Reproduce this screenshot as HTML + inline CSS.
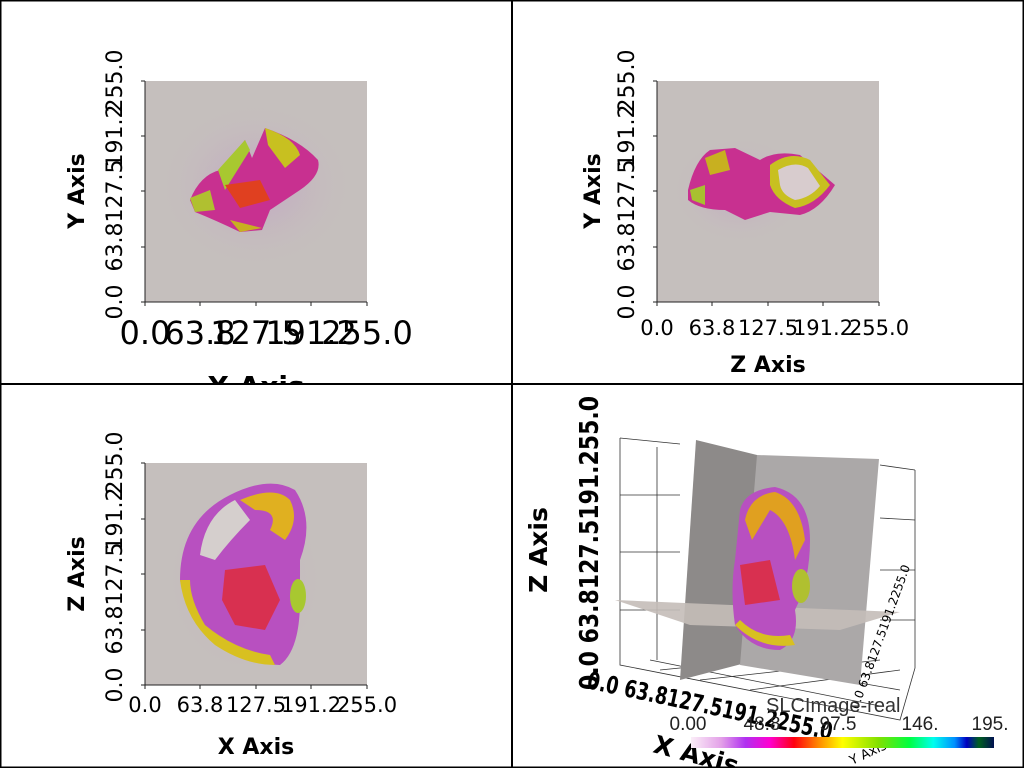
<!DOCTYPE html>
<html><head><meta charset="utf-8"><style>
html,body{margin:0;padding:0;background:#fff;}
svg{display:block;font-family:"DejaVu Sans","Liberation Sans",sans-serif;}
</style></head><body>
<svg width="1024" height="768" viewBox="0 0 1024 768" xmlns="http://www.w3.org/2000/svg">
<defs>
<linearGradient id="cb" x1="0" x2="1" y1="0" y2="0">
<stop offset="0" stop-color="#fbeef8"/>
<stop offset="0.1" stop-color="#e3a0e8"/>
<stop offset="0.18" stop-color="#b030f0"/>
<stop offset="0.26" stop-color="#ff00d0"/>
<stop offset="0.34" stop-color="#ff0010"/>
<stop offset="0.42" stop-color="#ff8800"/>
<stop offset="0.5" stop-color="#ffff00"/>
<stop offset="0.62" stop-color="#80e000"/>
<stop offset="0.72" stop-color="#00ff40"/>
<stop offset="0.8" stop-color="#00ffee"/>
<stop offset="0.87" stop-color="#0090ff"/>
<stop offset="0.91" stop-color="#0000c0"/>
<stop offset="0.95" stop-color="#006020"/>
<stop offset="1" stop-color="#001050"/>
</linearGradient>
<radialGradient id="halo"><stop offset="0" stop-color="#c070d0" stop-opacity="0.35"/><stop offset="1" stop-color="#c5bfbd" stop-opacity="0"/></radialGradient>
<clipPath id="tl"><rect x="0" y="0" width="512" height="383"/></clipPath>
</defs>
<rect width="1024" height="768" fill="#fff"/>

<!-- TL -->
<rect x="145" y="81" width="222" height="221" fill="#c5bfbd"/>
<ellipse cx="256" cy="185" rx="100" ry="85" fill="url(#halo)"/>
<g stroke="#222" stroke-width="1">
<line x1="145" y1="81" x2="145" y2="306"/><line x1="141" y1="302" x2="367" y2="302"/>
<line x1="141" y1="81" x2="145" y2="81"/><line x1="141" y1="136" x2="145" y2="136"/><line x1="141" y1="191" x2="145" y2="191"/><line x1="141" y1="247" x2="145" y2="247"/>
<line x1="200" y1="302" x2="200" y2="306"/><line x1="256" y1="302" x2="256" y2="306"/><line x1="311" y1="302" x2="311" y2="306"/><line x1="367" y1="302" x2="367" y2="306"/>
</g>
<path d="M190 200 Q200 175 220 170 L245 140 L252 158 L265 128 Q300 140 318 160 Q322 175 300 190 L270 210 L262 230 L240 232 Q215 220 195 212 Z" fill="#c83090"/>
<path d="M218 170 L245 140 L250 150 L225 190 Z" fill="#a8c830"/>
<path d="M265 128 Q295 138 300 155 L285 168 L268 145 Z" fill="#c8c020"/>
<path d="M190 198 L210 190 L215 210 L195 212 Z" fill="#b0c030"/>
<path d="M230 220 L262 228 L240 232 Z" fill="#c8b020"/>
<path d="M225 185 L260 180 L270 200 L240 208 Z" fill="#e04020"/>
<g font-size="22" fill="#000" text-anchor="middle">
<text transform="translate(122,302) rotate(-90)">0.0</text>
<text transform="translate(122,247) rotate(-90)">63.8</text>
<text transform="translate(122,191) rotate(-90)">127.5</text>
<text transform="translate(122,136) rotate(-90)">191.2</text>
<text transform="translate(122,81) rotate(-90)">255.0</text>
<text transform="translate(84,191) rotate(-90)" font-weight="bold" font-size="22">Y Axis</text>
</g>
<g font-size="32" fill="#000" text-anchor="middle" clip-path="url(#tl)">
<text x="145" y="344">0.0</text><text x="200" y="344">63.8</text><text x="256" y="344">127.5</text><text x="311" y="344">191.2</text><text x="367" y="344">255.0</text>
<text x="256" y="396" font-weight="bold" font-size="28">X Axis</text>
</g>

<!-- TR -->
<rect x="657" y="81" width="222" height="221" fill="#c5bfbd"/>
<ellipse cx="740" cy="190" rx="70" ry="55" fill="url(#halo)"/>
<g stroke="#222" stroke-width="1">
<line x1="657" y1="81" x2="657" y2="306"/><line x1="653" y1="302" x2="879" y2="302"/>
<line x1="653" y1="81" x2="657" y2="81"/><line x1="653" y1="136" x2="657" y2="136"/><line x1="653" y1="191" x2="657" y2="191"/><line x1="653" y1="247" x2="657" y2="247"/>
<line x1="712" y1="302" x2="712" y2="306"/><line x1="768" y1="302" x2="768" y2="306"/><line x1="823" y1="302" x2="823" y2="306"/><line x1="879" y1="302" x2="879" y2="306"/>
</g>
<path d="M688 190 Q695 160 710 150 L735 148 L760 160 Q775 150 800 155 L835 185 Q820 210 800 215 L770 212 L745 220 L725 210 Q700 210 688 200 Z" fill="#c83090"/>
<path d="M770 165 Q790 150 810 160 L830 185 Q815 205 795 208 Q775 200 770 185 Z" fill="#c8c020"/>
<path d="M778 170 Q795 160 808 168 L820 186 Q810 198 795 200 Q782 195 780 185 Z" fill="#d8ccce"/>
<path d="M705 158 L725 150 L730 170 L710 175 Z" fill="#c8b020"/>
<path d="M690 190 L705 185 L705 205 L692 200 Z" fill="#a8c030"/>
<g font-size="22" fill="#000" text-anchor="middle">
<text transform="translate(634,302) rotate(-90)">0.0</text>
<text transform="translate(634,247) rotate(-90)">63.8</text>
<text transform="translate(634,191) rotate(-90)">127.5</text>
<text transform="translate(634,136) rotate(-90)">191.2</text>
<text transform="translate(634,81) rotate(-90)">255.0</text>
<text transform="translate(600,191) rotate(-90)" font-weight="bold">Y Axis</text>
</g>
<g font-size="21" fill="#000" text-anchor="middle">
<text x="657" y="335">0.0</text><text x="712" y="335">63.8</text><text x="768" y="335">127.5</text><text x="823" y="335">191.2</text><text x="879" y="335">255.0</text>
<text x="768" y="372" font-weight="bold" font-size="22">Z Axis</text>
</g>

<!-- BL -->
<rect x="145" y="463" width="222" height="222" fill="#c5bfbd"/>
<ellipse cx="245" cy="580" rx="80" ry="95" fill="url(#halo)"/>
<g stroke="#222" stroke-width="1">
<line x1="145" y1="463" x2="145" y2="689"/><line x1="141" y1="685" x2="367" y2="685"/>
<line x1="141" y1="463" x2="145" y2="463"/><line x1="141" y1="519" x2="145" y2="519"/><line x1="141" y1="574" x2="145" y2="574"/><line x1="141" y1="630" x2="145" y2="630"/>
<line x1="200" y1="685" x2="200" y2="689"/><line x1="256" y1="685" x2="256" y2="689"/><line x1="311" y1="685" x2="311" y2="689"/><line x1="367" y1="685" x2="367" y2="689"/>
</g>
<path d="M180 580 Q180 520 230 495 Q270 475 295 490 Q315 520 300 560 L300 600 Q300 650 280 665 Q250 665 220 640 Q185 610 180 580 Z" fill="#b850c0"/>
<path d="M200 555 Q205 515 235 500 L250 520 Q230 540 215 560 Z" fill="#d5cfcd"/>
<path d="M240 500 Q275 485 290 500 Q300 520 285 540 L270 530 Q280 510 255 510 Z" fill="#e0b020"/>
<path d="M180 580 Q185 620 215 645 Q245 665 275 665 L270 655 Q235 650 205 625 Q190 600 190 580 Z" fill="#d8c020"/>
<path d="M225 570 L265 565 L280 600 L265 630 L235 625 L222 600 Z" fill="#d83050"/>
<ellipse cx="298" cy="596" rx="8" ry="17" fill="#a8c830"/>
<g font-size="22" fill="#000" text-anchor="middle">
<text transform="translate(122,685) rotate(-90)">0.0</text>
<text transform="translate(122,630) rotate(-90)">63.8</text>
<text transform="translate(122,574) rotate(-90)">127.5</text>
<text transform="translate(122,519) rotate(-90)">191.2</text>
<text transform="translate(122,463) rotate(-90)">255.0</text>
<text transform="translate(84,574) rotate(-90)" font-weight="bold">Z Axis</text>
</g>
<g font-size="21" fill="#000" text-anchor="middle">
<text x="145" y="712">0.0</text><text x="200" y="712">63.8</text><text x="256" y="712">127.5</text><text x="311" y="712">191.2</text><text x="367" y="712">255.0</text>
<text x="256" y="754" font-weight="bold" font-size="22">X Axis</text>
</g>

<!-- BR 3D -->
<g stroke="#333" stroke-width="0.8" fill="none">
<polyline points="620,438 620,665 900,720 915,668 915,470"/>
<line x1="620" y1="438" x2="680" y2="444"/>
<line x1="620" y1="495" x2="680" y2="495"/><line x1="620" y1="552" x2="680" y2="552"/><line x1="620" y1="610" x2="680" y2="610"/>
<line x1="657" y1="447" x2="657" y2="660"/>
<line x1="880" y1="465" x2="915" y2="470"/><line x1="880" y1="518" x2="915" y2="520"/><line x1="880" y1="570" x2="915" y2="570"/><line x1="880" y1="620" x2="915" y2="620"/>
<line x1="650" y1="660" x2="880" y2="706"/><line x1="700" y1="655" x2="900" y2="690"/>
<line x1="660" y1="670" x2="860" y2="650"/><line x1="700" y1="680" x2="880" y2="660"/><line x1="750" y1="690" x2="900" y2="670"/>
</g>
<polygon points="696,440 757,455 757,660 680,680" fill="#8d8a89"/>
<polygon points="757,455 879,459 860,685 740,665" fill="#aba8a8"/>
<polygon points="615,600 800,608 900,612 840,630 690,625" fill="#c4bdb8" opacity="0.9"/>
<path d="M740 510 Q745 490 775 487 Q810 495 810 540 Q810 580 795 610 Q800 640 780 650 Q750 650 735 625 Q730 590 735 560 Z" fill="#b850c0"/>
<path d="M745 520 Q750 495 775 492 Q800 500 805 540 L795 560 Q790 520 770 510 L752 540 Z" fill="#e0a020"/>
<path d="M740 565 L770 560 L780 600 L745 605 Z" fill="#d83050"/>
<path d="M735 625 Q760 650 795 645 L790 635 Q760 640 740 620 Z" fill="#d8c020"/>
<ellipse cx="801" cy="586" rx="9" ry="17" fill="#b0c030"/>
<g fill="#000" font-weight="bold">
<text transform="translate(598,690) rotate(-90)" font-size="26" textLength="294" lengthAdjust="spacingAndGlyphs">0.0 63.8127.5191.255.0</text>
<text transform="translate(547,550) rotate(-90)" font-size="25" text-anchor="middle">Z Axis</text>
<text transform="translate(586,688) rotate(12)" font-size="24" textLength="250" lengthAdjust="spacingAndGlyphs">0.0 63.8127.5191.2255.0</text>
<text transform="translate(652,752) rotate(15)" font-size="25">X Axis</text>
<text transform="translate(858,710) rotate(-70)" font-size="12" font-weight="normal">0.0 63.8127.5191.2255.0</text>
<text transform="translate(852,765) rotate(-25)" font-size="13" font-weight="normal">Y Axis</text>
</g>
<text x="766" y="712" font-size="20" fill="#333" font-family="Liberation Sans">SLCImage-real</text>
<g font-size="19" fill="#222" text-anchor="middle" font-family="Liberation Sans">
<text x="688" y="730">0.00</text><text x="762" y="730">48.8</text><text x="838" y="730">97.5</text><text x="920" y="730">146.</text><text x="990" y="730">195.</text>
</g>
<rect x="691" y="737" width="303" height="11" fill="url(#cb)"/>

<!-- panel borders -->
<rect x="0.5" y="0.5" width="1023" height="767" fill="none" stroke="#000" stroke-width="2"/>
<line x1="512" y1="0" x2="512" y2="768" stroke="#000" stroke-width="2"/>
<line x1="0" y1="384" x2="1024" y2="384" stroke="#000" stroke-width="2"/>
</svg>
</body></html>
